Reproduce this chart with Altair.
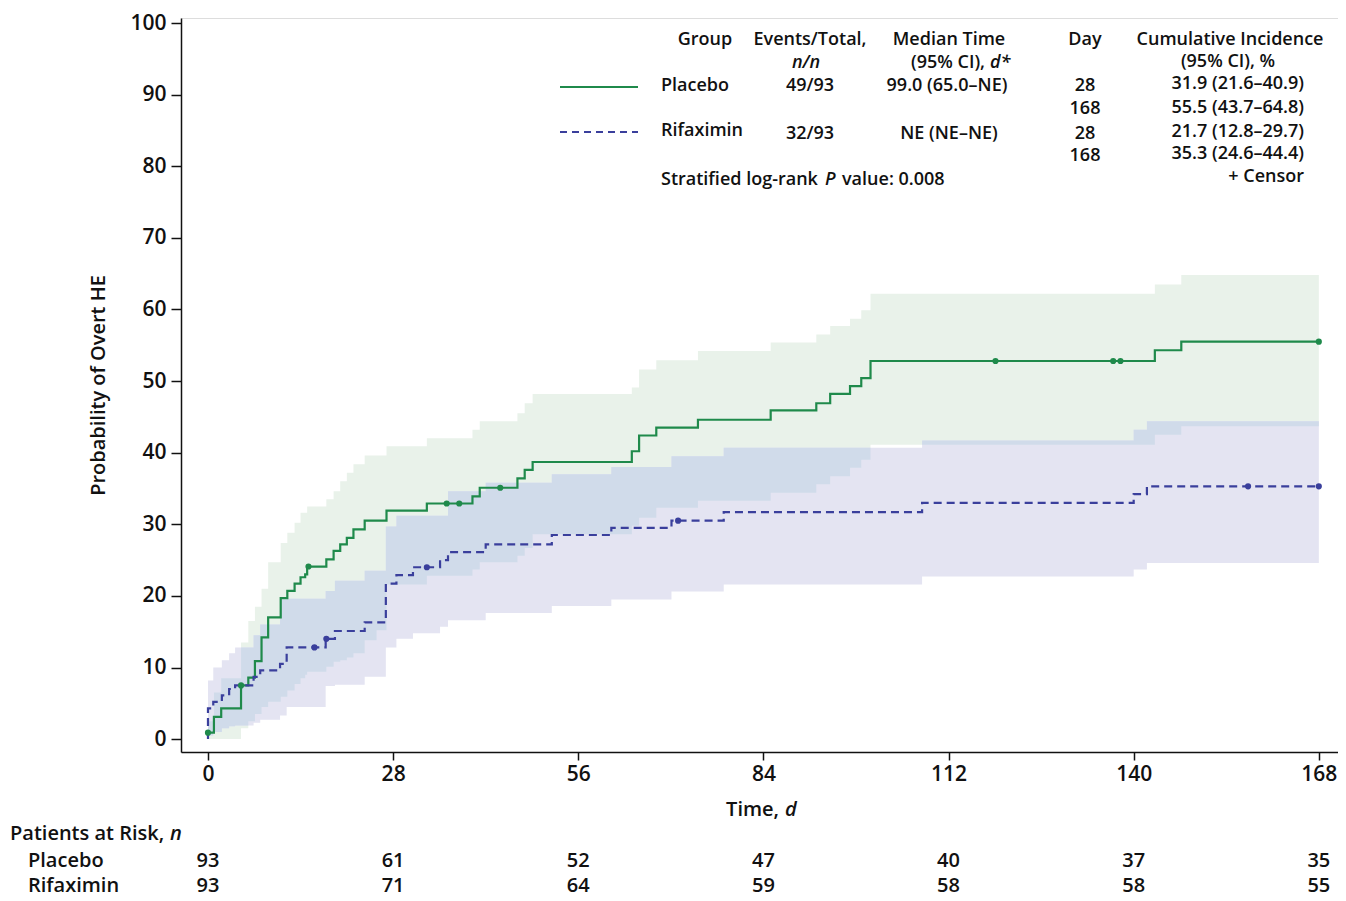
import altair as alt
import pandas as pd

# ---------------- data ----------------
placebo_t = [0, 0.9, 2.0, 5.0, 6.1, 7.1, 8.1, 9.1, 11.0, 12.0, 13.1, 14.0, 14.7, 15.0, 17.9, 19.0, 20.0,
             21.0, 22.0, 23.7, 25.5, 27.0, 33.1, 40.0, 41.1, 46.8, 47.9, 49.1, 64.1, 65.2, 67.8, 74.1,
             85.1, 92.0, 94.1, 97.1, 98.8, 100.2, 143.2, 147.2, 168]
placebo_v = [0.9, 3.1, 4.3, 7.5, 8.6, 10.9, 14.2, 17.0, 19.7, 20.7, 21.7, 22.6, 23.0, 24.1, 25.1, 26.3, 27.2,
             28.1, 29.3, 30.5, 30.5, 31.9, 32.9, 33.9, 35.1, 36.4, 37.6, 38.7, 40.2, 42.4, 43.5, 44.6,
             45.9, 46.9, 48.2, 49.3, 50.4, 52.8, 54.3, 55.5, 55.5]
placebo_lo = [0.0, 0.0, 0.0, 1.5, 2.5, 3.5, 4.5, 5.2, 5.9, 6.8, 7.7, 8.5, 9.0, 9.4, 10.1, 10.8, 11.0,
              11.4, 12.0, 13.8, 15.2, 21.6, 22.8, 23.7, 24.7, 25.6, 26.7, 28.6, 29.8, 30.9, 32.3, 33.3,
              34.4, 35.6, 36.7, 37.9, 39.0, 41.1, 42.5, 43.7, 43.7]
placebo_hi = [2.5, 6.5, 8.5, 13.5, 16.5, 18.5, 21.0, 24.7, 27.4, 28.8, 30.2, 31.6, 31.6, 32.5, 33.5, 34.6, 36.0,
              37.2, 38.4, 39.6, 39.6, 40.9, 42.0, 43.2, 44.4, 45.5, 46.9, 48.2, 49.1, 51.6, 52.9, 54.2,
              55.4, 56.5, 57.7, 58.7, 59.9, 62.2, 63.5, 64.8, 64.8]
placebo_cens_t = [0, 5.0, 15.2, 36.1, 38.0, 44.2, 119.1, 136.9, 138.0, 168]
placebo_cens_v = [0.9, 7.5, 24.1, 32.9, 32.9, 35.1, 52.8, 52.8, 52.8, 55.5]

rifax_t = [0, 0.8, 2.1, 3.2, 4.1, 6.9, 7.9, 10.9, 11.9, 17.8, 19.2, 23.7, 26.9, 28.5, 31.0, 35.1, 36.3,
           42.0, 52.0, 61.0, 70.1, 78.0, 108.0, 140.0, 142.0, 168]
rifax_v = [4.3, 5.2, 6.1, 7.0, 7.5, 8.7, 9.6, 10.5, 12.8, 14.0, 15.1, 16.3, 21.7, 22.9, 24.0, 25.0, 26.1,
           27.2, 28.5, 29.5, 30.5, 31.7, 33.0, 34.2, 35.3, 35.3]
rifax_lo = [0.5, 1.0, 1.5, 1.8, 1.9, 2.3, 2.7, 3.3, 4.5, 7.4, 7.6, 8.7, 12.8, 14.0, 14.8, 15.7, 16.6,
            17.6, 18.6, 19.5, 20.6, 21.6, 22.7, 23.7, 24.6, 24.6]
rifax_hi = [8.2, 10.0, 11.0, 12.0, 12.8, 14.5, 16.0, 19.5, 19.6, 20.7, 22.1, 23.5, 29.7, 31.2, 31.2, 31.2, 34.6,
            35.8, 37.0, 38.0, 39.5, 40.7, 41.7, 43.2, 44.4, 44.4]
rifax_cens_t = [16.1, 17.9, 33.1, 71.1, 157.3, 168]
rifax_cens_v = [12.8, 14.0, 24.0, 30.5, 35.3, 35.3]

risk_days = [0, 28, 56, 84, 112, 140, 168]
risk_placebo = [93, 61, 52, 47, 40, 37, 35]
risk_rifaximin = [93, 71, 64, 59, 58, 58, 55]

# ---------------- styling ----------------
FONT = "Open Sans"
W, H = 1157, 734
LEFT, TOP = 173, 10           # plot origin on page = (181, 18)
OX, OY = 181, 18
GREEN = "#1f8a4b"
BLUE = "#3a3f9c"
GREEN_BAND = "#e9f2ea"
LAV_BAND = "#e4e4f2"
OVER_BAND = "#d0dbea"
INK = "#111111"

xscale = alt.Scale(domain=[-4.08, 170.9], nice=False, zero=False)
yscale = alt.Scale(domain=[-1.8, 100.7], nice=False, zero=False)
xaxis = alt.Axis(values=risk_days, title=None, grid=False, labelFont=FONT, labelFontSize=21,
                 labelFontWeight=600, labelColor=INK, tickSize=8, tickWidth=1.5, tickColor=INK,
                 domainColor=INK, domainWidth=1.5, labelPadding=3)
yaxis = alt.Axis(values=list(range(0, 101, 10)), title="Probability of Overt HE", grid=False,
                 labelFont=FONT, labelFontSize=21, labelFontWeight=600, labelColor=INK,
                 tickSize=10, tickWidth=1.5, tickColor=INK, domainColor=INK, domainWidth=1.5,
                 labelPadding=5, titleFont=FONT, titleFontSize=20, titleFontWeight=600,
                 titleColor=INK, titlePadding=21)


def X(field):
    return alt.X(field, type="quantitative", scale=xscale, axis=xaxis)


def Y(field):
    return alt.Y(field, type="quantitative", scale=yscale, axis=yaxis)


def lookup(ts, vs, t):
    val = vs[0]
    for tt, vv in zip(ts, vs):
        if tt <= t:
            val = vv
        else:
            break
    return val


pl = pd.DataFrame({"t": placebo_t, "v": placebo_v, "lo": placebo_lo, "hi": placebo_hi})
rf = pd.DataFrame({"t": rifax_t, "v": rifax_v, "lo": rifax_lo, "hi": rifax_hi})
rf_line = pd.concat([pd.DataFrame({"t": [0], "v": [0.0]}), rf[["t", "v"]]], ignore_index=True)

grid = sorted(set(placebo_t) | set(rifax_t))
ov_rows = []
for t in grid:
    lo = max(lookup(placebo_t, placebo_lo, t), lookup(rifax_t, rifax_lo, t))
    hi = min(lookup(placebo_t, placebo_hi, t), lookup(rifax_t, rifax_hi, t))
    if hi < lo:
        hi = lo
    ov_rows.append({"t": t, "lo": lo, "hi": hi})
ov = pd.DataFrame(ov_rows)

pl_c = pd.DataFrame({"t": placebo_cens_t, "v": placebo_cens_v})
rf_c = pd.DataFrame({"t": rifax_cens_t, "v": rifax_cens_v})

band_pl = alt.Chart(pl).mark_area(interpolate="step-after", color=GREEN_BAND, opacity=1).encode(
    x=X("t"), y=Y("lo"), y2="hi")
band_rf = alt.Chart(rf).mark_area(interpolate="step-after", color=LAV_BAND, opacity=1).encode(
    x=X("t"), y=Y("lo"), y2="hi")
band_ov = alt.Chart(ov).mark_area(interpolate="step-after", color=OVER_BAND, opacity=1).encode(
    x=X("t"), y=Y("lo"), y2="hi")

line_pl = alt.Chart(pl).mark_line(interpolate="step-after", color=GREEN, strokeWidth=2.2).encode(
    x=X("t"), y=Y("v"))
line_rf = alt.Chart(rf_line).mark_line(interpolate="step-after", color=BLUE, strokeWidth=2.2,
                                       strokeDash=[8, 5]).encode(x=X("t"), y=Y("v"))
pts_pl = alt.Chart(pl_c).mark_circle(color=GREEN, size=38, opacity=1).encode(x=X("t"), y=Y("v"))
pts_rf = alt.Chart(rf_c).mark_circle(color=BLUE, size=38, opacity=1).encode(x=X("t"), y=Y("v"))

# legend samples
leg_g = alt.Chart(pd.DataFrame({"k": [0]})).mark_rule(color=GREEN, strokeWidth=2.2).encode(
    x=alt.value(560 - OX), x2=alt.value(638 - OX), y=alt.value(87 - OY))
leg_b = alt.Chart(pd.DataFrame({"k": [0]})).mark_rule(color=BLUE, strokeWidth=2, strokeDash=[7, 5]).encode(
    x=alt.value(560 - OX), x2=alt.value(638 - OX), y=alt.value(132 - OY))

# at-risk numbers
risk = pd.DataFrame({"t": risk_days * 2,
                     "n": [str(v) for v in risk_placebo] + [str(v) for v in risk_rifaximin],
                     "row": ["Placebo"] * 7 + ["Rifaximin"] * 7})
risk_pl = alt.Chart(risk[risk.row == "Placebo"]).mark_text(
    font=FONT, fontSize=20, fontWeight=600, color=INK, baseline="middle").encode(
    x=X("t"), y=alt.value(861 - OY), text="n:N")
risk_rf = alt.Chart(risk[risk.row == "Rifaximin"]).mark_text(
    font=FONT, fontSize=20, fontWeight=600, color=INK, baseline="middle").encode(
    x=X("t"), y=alt.value(886 - OY), text="n:N")

# annotation texts: (text, page x, page y, align, style, size)
ann = [
    ("Group", 705, 40, "center", "normal", 18),
    ("Events/Total,", 810, 40, "center", "normal", 18),
    ("Median Time", 949, 40, "center", "normal", 18),
    ("Day", 1085, 40, "center", "normal", 18),
    ("Cumulative Incidence", 1230, 40, "center", "normal", 18),
    ("n/n", 806, 63, "center", "italic", 18),
    ("(95% CI),", 985, 63, "right", "normal", 18),
    ("d*", 990, 63, "left", "italic", 18),
    ("(95% CI), %", 1228, 62, "center", "normal", 18),
    ("Placebo", 661, 86, "left", "normal", 18),
    ("49/93", 810, 86, "center", "normal", 18),
    ("99.0 (65.0–NE)", 947, 86, "center", "normal", 18),
    ("28", 1085, 86, "center", "normal", 18),
    ("31.9 (21.6–40.9)", 1304, 84, "right", "normal", 18),
    ("168", 1085, 109, "center", "normal", 18),
    ("55.5 (43.7–64.8)", 1304, 108, "right", "normal", 18),
    ("Rifaximin", 661, 131, "left", "normal", 18),
    ("32/93", 810, 134, "center", "normal", 18),
    ("NE (NE–NE)", 949, 134, "center", "normal", 18),
    ("28", 1085, 134, "center", "normal", 18),
    ("21.7 (12.8–29.7)", 1304, 132, "right", "normal", 18),
    ("168", 1085, 156, "center", "normal", 18),
    ("35.3 (24.6–44.4)", 1304, 154, "right", "normal", 18),
    ("+ Censor", 1304, 177, "right", "normal", 18),
    ("Stratified log-rank", 661, 180, "left", "normal", 18),
    ("P", 825, 180, "left", "italic", 18),
    ("value: 0.008", 842, 180, "left", "normal", 18),
    ("Time,", 779, 810, "right", "normal", 20),
    ("d", 785, 810, "left", "italic", 20),
    ("Patients at Risk,", 10, 834, "left", "normal", 20),
    ("n", 170, 834, "left", "italic", 20),
    ("Placebo", 28, 861, "left", "normal", 20),
    ("Rifaximin", 28, 886, "left", "normal", 20),
]
ann_df = pd.DataFrame(ann, columns=["label", "px", "py", "align", "style", "size"])
ann_df["px"] = ann_df["px"] - OX
ann_df["py"] = ann_df["py"] - OY

text_layers = []
for (align, style, size), sub in ann_df.groupby(["align", "style", "size"]):
    text_layers.append(
        alt.Chart(sub).mark_text(font=FONT, fontSize=int(size), fontWeight=600, fontStyle=style,
                                 align=align, baseline="middle", color=INK).encode(
            x=alt.X("px:Q", scale=None), y=alt.Y("py:Q", scale=None), text="label:N"))

chart = alt.layer(band_pl, band_rf, band_ov, line_pl, line_rf, pts_pl, pts_rf, leg_g, leg_b,
                  risk_pl, risk_rf, *text_layers).properties(
    width=W, height=H,
    autosize=alt.AutoSizeParams(type="none"),
    padding={"left": LEFT, "top": TOP, "right": 0, "bottom": 147},
).configure_view(stroke=None).configure(background="white")

chart.save("out.html", embed_options={"renderer": "svg", "actions": False})
